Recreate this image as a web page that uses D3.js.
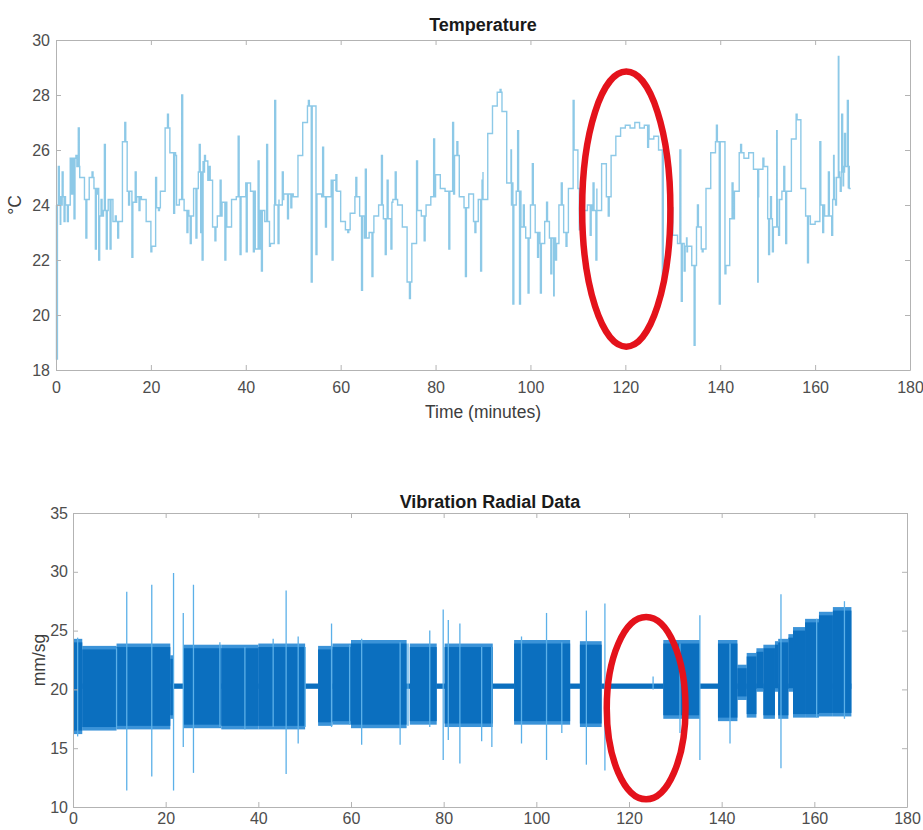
<!DOCTYPE html>
<html>
<head>
<meta charset="utf-8">
<script src="https://cdn.jsdelivr.net/npm/d3@7"></script>
<style>
  body { margin: 0; background: #fff; }
  text { font-family: "Liberation Sans", Arial, sans-serif; }
  .tick text { fill: #4d4d4d; font-size: 16px; }
</style>
</head>
<body>
<div id="chart"></div>
<script>
// temperature, one value per minute (stairs), plus short spikes [minute, value]
const tempBase = [
  24.0, 24.3, 24.0, 25.7, 25.4, 25.0, 24.2, 25.0, 24.6, 23.6,
  23.8, 24.2, 23.4, 23.4, 26.3, 24.5, 24.1, 24.3, 24.2, 23.4,
  22.5, 23.9, 24.5, 26.8, 25.9, 24.0, 24.2, 23.8, 23.6, 24.6,
  25.2, 25.6, 24.9, 23.2, 23.6, 24.1, 23.2, 24.2, 24.3, 22.4,
  24.8, 24.5, 22.4, 23.8, 23.4, 22.6, 24.0, 24.2, 24.4, 24.4,
  24.3, 25.8, 27.0, 27.6, 24.4, 24.0, 24.3, 23.8, 24.9, 24.5,
  23.4, 23.1, 23.7, 24.3, 23.6, 22.8, 23.0, 23.6, 24.0, 23.5,
  24.1, 24.2, 24.0, 23.2, 21.2, 22.6, 23.8, 23.6, 24.0, 24.3,
  25.1, 24.6, 24.5, 24.4, 25.8, 24.3, 23.9, 24.4, 23.4, 24.2,
  25.2, 26.6, 27.6, 28.1, 27.4, 24.8, 24.0, 24.5, 23.2, 22.8,
  24.0, 23.0, 22.6, 23.4, 22.8, 22.6, 24.0, 23.0, 24.6, 26.0,
  24.6, 23.8, 24.0, 23.8, 24.6, 25.5, 24.3, 25.8, 26.5, 26.8,
  26.9, 26.8, 27.0, 26.8, 26.9, 26.4, 26.5, 26.0, 22.4, 22.9,
  23.2, 22.6, 22.5, 22.3, 21.8, 23.2, 22.4, 24.6, 25.9, 26.3,
  22.8, 21.8, 23.5, 24.5, 25.9, 25.7, 25.9, 25.3, 24.3, 25.4,
  23.5, 23.2, 24.2, 24.5, 23.8, 26.4, 27.1, 24.6, 23.6, 23.3,
  23.4, 24.0, 23.6, 24.2, 25.0, 25.2, 25.4, 24.6
];
const tempEnd = 167.5;
const tempSpikes = [
  [0.1, 18.4], [0.5, 25.4], [0.9, 23.3], [1.3, 25.2], [1.7, 23.4], [2.4, 23.4],
  [3.3, 24.4], [3.8, 23.5], [4.2, 25.8], [4.7, 26.8], [6.3, 22.8], [7.6, 25.2],
  [8.3, 22.4], [8.7, 24.4], [9.0, 22.0], [9.5, 24.2], [10.2, 26.2], [10.6, 22.4],
  [11.4, 22.4], [12.5, 23.6], [13.0, 22.8], [14.5, 27.0], [15.3, 24.0], [16.0, 22.1],
  [16.7, 25.2], [17.5, 23.8], [20.0, 22.3], [21.0, 25.0], [21.6, 23.8], [23.5, 27.3],
  [24.8, 23.7], [25.2, 25.8], [26.5, 28.0], [27.6, 23.0], [28.3, 22.6], [29.5, 22.8],
  [30.2, 26.2], [30.5, 23.0], [30.8, 22.0], [31.3, 25.8], [32.3, 25.4], [33.5, 22.7],
  [34.6, 24.9], [35.6, 22.0], [38.4, 26.5], [38.8, 22.2], [40.1, 22.3], [41.6, 22.3],
  [42.6, 25.6], [43.3, 21.6], [44.4, 26.2], [45.0, 22.5], [46.1, 27.8], [46.8, 22.6],
  [47.7, 25.2], [48.8, 23.5], [49.5, 23.9], [53.2, 27.8], [53.8, 21.2], [54.8, 22.2],
  [56.2, 26.1], [56.8, 23.2], [58.2, 22.0], [59.0, 25.1], [61.5, 23.0], [63.2, 25.0],
  [64.4, 20.9], [65.2, 25.3], [66.6, 21.4], [68.6, 25.8], [69.4, 22.2], [69.8, 24.9],
  [70.6, 22.4], [71.5, 25.2], [74.5, 20.6], [76.0, 25.6], [77.6, 22.7], [79.6, 26.4],
  [82.8, 22.4], [83.6, 27.0], [84.5, 26.3], [86.3, 21.4], [88.3, 23.0], [89.5, 21.6],
  [89.8, 24.9], [93.6, 28.2], [95.9, 26.0], [96.3, 20.4], [97.3, 26.7], [97.7, 20.4],
  [98.5, 24.0], [99.5, 20.8], [100.4, 25.5], [101.5, 22.1], [102.1, 20.8], [103.4, 24.1],
  [104.3, 21.5], [104.9, 20.7], [105.3, 22.0], [106.5, 24.8], [107.5, 22.5], [109.0, 27.8],
  [110.3, 23.1], [112.6, 22.9], [113.2, 24.8], [113.8, 22.0], [116.4, 23.6], [124.7, 26.1],
  [127.8, 21.0], [129.8, 23.9], [131.5, 26.0], [131.8, 20.5], [132.4, 21.6], [132.9, 22.8],
  [134.5, 18.9], [135.2, 24.0], [136.2, 22.3], [139.2, 26.9], [139.8, 20.4], [141.0, 21.5],
  [142.5, 24.8], [144.3, 26.2], [147.9, 21.2], [149.0, 25.7], [150.2, 22.2], [150.6, 24.3],
  [151.0, 22.3], [151.9, 26.7], [152.3, 22.9], [153.4, 25.4], [153.8, 22.6], [156.0, 27.3],
  [158.4, 21.9], [161.0, 26.3], [161.6, 23.0], [162.8, 25.2], [163.5, 22.9], [163.9, 25.8],
  [164.3, 24.0], [164.9, 29.4], [165.3, 24.5], [165.6, 27.3], [165.9, 24.7], [166.2, 26.6],
  [166.8, 27.8], [167.2, 24.6]
];

// vibration: idle level, active bursts [start, end, low, high], spikes [minute, low, high]
const vibIdle = [0, 168, 20.05, 20.5];
const vibSegments = [
  [0.0, 2.0, 16.5, 24.0], [2.0, 9.4, 16.8, 23.4], [9.4, 21.0, 16.9, 23.6],
  [21.0, 21.8, 17.8, 22.6], [23.8, 32.0, 17.0, 23.5], [32.0, 40.0, 16.9, 23.5],
  [40.0, 50.1, 16.9, 23.6], [52.9, 56.0, 17.2, 23.4], [56.0, 60.0, 17.3, 23.6],
  [60.0, 72.0, 17.0, 23.9], [72.7, 78.5, 17.3, 23.6], [80.2, 90.6, 17.1, 23.6],
  [95.2, 107.3, 17.3, 23.9], [109.4, 114.1, 17.1, 23.8], [127.4, 135.3, 17.8, 23.9],
  [139.2, 143.4, 17.6, 23.9], [143.4, 145.4, 19.4, 21.8], [145.4, 147.5, 17.9, 22.8],
  [147.5, 149.0, 20.1, 23.2], [149.0, 151.5, 17.8, 23.5], [151.5, 152.2, 20.1, 23.8],
  [152.2, 154.4, 17.8, 24.0], [154.4, 155.4, 20.1, 24.4], [155.4, 158.0, 17.9, 25.0],
  [158.0, 161.0, 17.9, 25.7], [161.0, 164.0, 18.0, 26.3], [164.0, 168.0, 18.0, 26.7]
];
const vibSpikes = [
  [1.0, 16.0, 24.4], [9.4, 16.7, 23.5], [11.6, 11.4, 28.3], [17.0, 12.6, 28.9],
  [21.7, 11.4, 29.9], [23.8, 15.1, 26.5], [26.0, 12.9, 28.9], [31.7, 16.8, 24.0],
  [37.1, 16.6, 23.6], [43.2, 16.8, 24.3], [46.0, 12.8, 28.4], [48.6, 15.4, 24.5],
  [50.1, 16.8, 23.6], [55.8, 16.8, 25.6], [59.7, 17.0, 23.8], [62.3, 15.3, 24.3],
  [70.6, 15.3, 24.0], [72.3, 16.9, 23.9], [77.0, 16.8, 25.0], [79.9, 14.0, 26.8],
  [81.0, 15.7, 25.9], [83.5, 13.7, 25.6], [88.2, 15.6, 23.6], [90.4, 15.1, 23.6],
  [96.8, 15.4, 24.5], [102.2, 14.0, 26.5], [105.5, 16.3, 24.0], [110.8, 13.6, 26.7],
  [114.8, 13.1, 27.3], [125.2, 20.0, 21.1], [131.0, 16.3, 23.9], [135.3, 14.0, 26.3],
  [141.8, 15.4, 23.9], [152.8, 13.3, 28.1], [160.5, 17.6, 26.0], [166.5, 17.5, 27.5]
];
const vibFringe = 0.3; // soft edge of each burst, in mm/sg

// red highlight ellipses [centre minute, centre value, half-width minutes, half-height value]
const tempMark = [120.2, 23.85, 9.3, 5.0];
const vibMark = [123.7, 18.4, 8.5, 7.75];

const xTicks = d3.range(0, 181, 20);
const tempTicks = d3.range(18, 31, 2);
const vibTicks = d3.range(10, 36, 5);

const svg = d3.select('#chart')
  .append('svg')
  .attr('width', 923)
  .attr('height', 830);

const xT = d3.scaleLinear([0, 180], [56, 910]);
const yT = d3.scaleLinear([18, 30], [370, 40]);
const xV = d3.scaleLinear([0, 180], [73, 907]);
const yV = d3.scaleLinear([10, 35], [807, 513]);

function drawAxes(x, y, yTicks, xPad, yPad) {
  const g = svg.append('g');
  const [x0, x1] = x.range();
  const [y0, y1] = y.range();
  g.append('g')
    .attr('transform', `translate(0,${y0})`)
    .call(d3.axisBottom(x).tickValues(xTicks).tickSizeInner(-5).tickSizeOuter(0).tickPadding(xPad));
  g.append('g')
    .attr('transform', `translate(0,${y1})`)
    .call(d3.axisTop(x).tickValues(xTicks).tickSizeInner(-5).tickSizeOuter(0).tickFormat(''));
  g.append('g')
    .attr('transform', `translate(${x0},0)`)
    .call(d3.axisLeft(y).tickValues(yTicks).tickSizeInner(-5).tickSizeOuter(0).tickPadding(yPad));
  g.append('g')
    .attr('transform', `translate(${x1},0)`)
    .call(d3.axisRight(y).tickValues(yTicks).tickSizeInner(-5).tickSizeOuter(0).tickFormat(''));
  g.selectAll('.domain, .tick line').attr('stroke', '#b3b3b3');
  return g;
}

function drawMark(x, y, m) {
  svg.append('ellipse')
    .attr('cx', x(m[0]))
    .attr('cy', y(m[1]))
    .attr('rx', x(m[0] + m[2]) - x(m[0]))
    .attr('ry', y(m[1] - m[3]) - y(m[1]))
    .attr('fill', 'none')
    .attr('stroke', '#e4121b')
    .attr('stroke-width', 6.5);
}

/* Temperature */
const tempPts = tempBase.map((v, i) => ({ t: i, v }));
tempSpikes.forEach(([t, v]) => {
  tempPts.push({ t, v });
  tempPts.push({ t: t + 0.2, v: tempBase[Math.floor(t)] });
});
tempPts.push({ t: tempEnd, v: tempBase[tempBase.length - 1] });
tempPts.sort((a, b) => a.t - b.t);

svg.append('path')
  .datum(tempPts)
  .attr('fill', 'none')
  .attr('stroke', '#8dc9e7')
  .attr('stroke-width', 1.4)
  .attr('d', d3.line().x(d => xT(d.t)).y(d => yT(d.v)).curve(d3.curveStepAfter));

drawAxes(xT, yT, tempTicks, 12, 6);

svg.append('text')
  .attr('x', (xT(0) + xT(180)) / 2)
  .attr('y', 31)
  .attr('text-anchor', 'middle')
  .attr('font-weight', 'bold')
  .attr('font-size', 18)
  .attr('fill', '#1a1a1a')
  .text('Temperature');
svg.append('text')
  .attr('x', (xT(0) + xT(180)) / 2)
  .attr('y', 418)
  .attr('text-anchor', 'middle')
  .attr('font-size', 17.5)
  .attr('fill', '#3d3d3d')
  .text('Time (minutes)');
svg.append('text')
  .attr('transform', `translate(21,${(yT(18) + yT(30)) / 2}) rotate(-90)`)
  .attr('text-anchor', 'middle')
  .attr('font-size', 17.5)
  .attr('fill', '#3d3d3d')
  .text('°C');

drawMark(xT, yT, tempMark);

/* Vibration */
const vg = svg.append('g');
vg.append('rect')
  .attr('x', xV(vibIdle[0]))
  .attr('width', xV(vibIdle[1]) - xV(vibIdle[0]))
  .attr('y', yV(vibIdle[3]))
  .attr('height', yV(vibIdle[2]) - yV(vibIdle[3]))
  .attr('fill', '#0b6fbf');

vg.selectAll('rect.fringe')
  .data(vibSegments)
  .join('rect')
  .attr('class', 'fringe')
  .attr('x', d => xV(d[0]))
  .attr('width', d => xV(d[1]) - xV(d[0]))
  .attr('y', d => yV(d[3] + vibFringe))
  .attr('height', d => yV(d[2] - vibFringe) - yV(d[3] + vibFringe))
  .attr('fill', '#3b93d8');

vg.selectAll('rect.burst')
  .data(vibSegments)
  .join('rect')
  .attr('class', 'burst')
  .attr('x', d => xV(d[0]))
  .attr('width', d => xV(d[1]) - xV(d[0]))
  .attr('y', d => yV(d[3]))
  .attr('height', d => yV(d[2]) - yV(d[3]))
  .attr('fill', '#0b6fbf');

vg.selectAll('line')
  .data(vibSpikes)
  .join('line')
  .attr('x1', d => xV(d[0]))
  .attr('x2', d => xV(d[0]))
  .attr('y1', d => yV(d[1]))
  .attr('y2', d => yV(d[2]))
  .attr('stroke', '#5cb0e8')
  .attr('stroke-width', 1.3);

drawAxes(xV, yV, vibTicks, 6, 5);

svg.append('text')
  .attr('x', (xV(0) + xV(180)) / 2)
  .attr('y', 508)
  .attr('text-anchor', 'middle')
  .attr('font-weight', 'bold')
  .attr('font-size', 18)
  .attr('fill', '#1a1a1a')
  .text('Vibration Radial Data');
svg.append('text')
  .attr('transform', `translate(45,${(yV(10) + yV(35)) / 2}) rotate(-90)`)
  .attr('text-anchor', 'middle')
  .attr('font-size', 17.5)
  .attr('fill', '#3d3d3d')
  .text('mm/sg');

drawMark(xV, yV, vibMark);
</script>
</body>
</html>
